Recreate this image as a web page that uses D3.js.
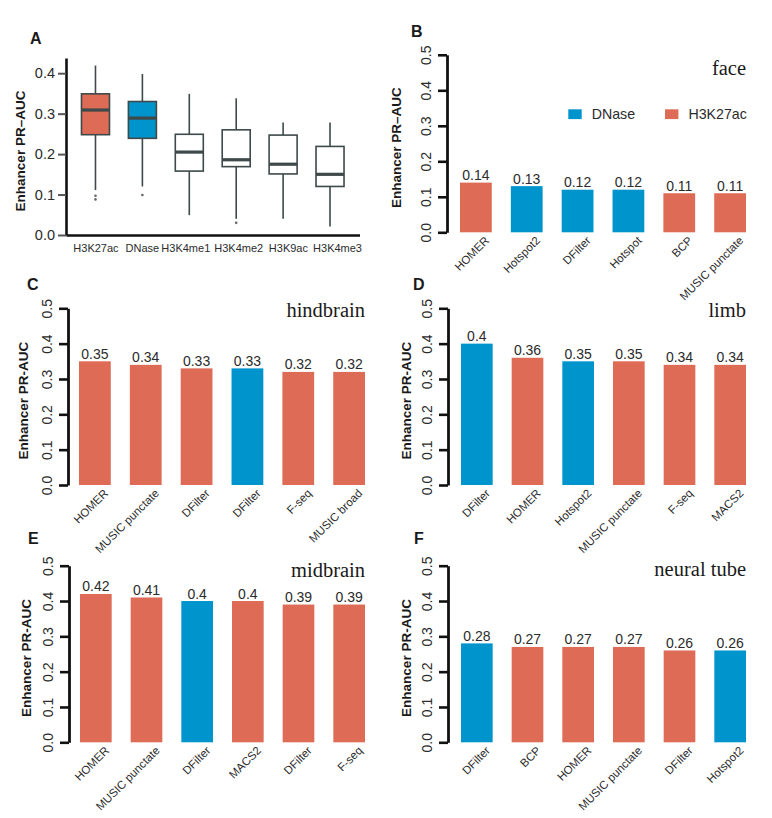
<!DOCTYPE html>
<html>
<head>
<meta charset="utf-8">
<script src="https://cdn.jsdelivr.net/npm/d3@7"></script>
<style>
  html, body { margin: 0; padding: 0; background: #fff; }
  svg { display: block; font-family: "Liberation Sans", Arial, Helvetica, sans-serif; }
</style>
</head>
<body>
<svg id="chart" width="772" height="818"></svg>
<script>
// ---------------- DATA ----------------
// Panel A: boxplot summary per mark
const boxCategories = ["H3K27ac", "DNase", "H3K4me1", "H3K4me2", "H3K9ac", "H3K4me3"];
const boxLow    = [0.111, 0.120, 0.049, 0.040, 0.040, 0.021];
const boxQ1     = [0.248, 0.239, 0.158, 0.169, 0.151, 0.120];
const boxMedian = [0.309, 0.289, 0.205, 0.186, 0.175, 0.150];
const boxQ3     = [0.349, 0.330, 0.249, 0.260, 0.247, 0.219];
const boxHigh   = [0.419, 0.398, 0.349, 0.338, 0.278, 0.278];
const boxOutliers = [[0.097, 0.088], [0.099], [], [0.030], [], []];
const boxTicks = [0, 0.1, 0.2, 0.3, 0.4];

// Panels B-F: top peak callers per tissue
const faceMethods = ["HOMER", "Hotspot2", "DFilter", "Hotspot", "BCP", "MUSIC punctate"];
const faceValues  = [0.14, 0.13, 0.12, 0.12, 0.11, 0.11];
const faceTypes   = ["H3K27ac", "DNase", "DNase", "DNase", "H3K27ac", "H3K27ac"];

const hindbrainMethods = ["HOMER", "MUSIC punctate", "DFilter", "DFilter", "F-seq", "MUSIC broad"];
const hindbrainValues  = [0.35, 0.34, 0.33, 0.33, 0.32, 0.32];
const hindbrainTypes   = ["H3K27ac", "H3K27ac", "H3K27ac", "DNase", "H3K27ac", "H3K27ac"];

const limbMethods = ["DFilter", "HOMER", "Hotspot2", "MUSIC punctate", "F-seq", "MACS2"];
const limbValues  = [0.40, 0.36, 0.35, 0.35, 0.34, 0.34];
const limbTypes   = ["DNase", "H3K27ac", "DNase", "H3K27ac", "H3K27ac", "H3K27ac"];

const midbrainMethods = ["HOMER", "MUSIC punctate", "DFilter", "MACS2", "DFilter", "F-seq"];
const midbrainValues  = [0.42, 0.41, 0.40, 0.40, 0.39, 0.39];
const midbrainTypes   = ["H3K27ac", "H3K27ac", "DNase", "H3K27ac", "H3K27ac", "H3K27ac"];

const neuralMethods = ["DFilter", "BCP", "HOMER", "MUSIC punctate", "DFilter", "Hotspot2"];
const neuralValues  = [0.28, 0.27, 0.27, 0.27, 0.26, 0.26];
const neuralTypes   = ["DNase", "H3K27ac", "H3K27ac", "H3K27ac", "H3K27ac", "DNase"];

const barTicks = [0, 0.1, 0.2, 0.3, 0.4, 0.5];
const legendLabels = ["DNase", "H3K27ac"];

// ---------------- STYLE / LAYOUT ----------------
const colorOf = d3.scaleOrdinal().domain(["DNase", "H3K27ac"]).range(["#0094cd", "#de6b55"]);
const boxFill = { "H3K27ac": "#de6b55", "DNase": "#0094cd" };
const boxStroke = "#3e4949";
const textCol = "#2b2b2b";
const boxLabelShift = [0.5, 0, -3.5, 2.5, 5.3, 7.5]; // horizontal nudge of panel A labels (px)

const svg = d3.select("#chart");

// ---------------- PANEL A ----------------
(function panelA() {
  const g = svg.append("g");
  const y = d3.scaleLinear().domain([0, 0.4376]).range([235, 58]);
  const x = d3.scaleBand().domain(boxCategories).range([66, 359.5]).paddingInner(0.403).paddingOuter(0.33);

  // y axis
  const ya = g.append("g").attr("transform", "translate(66,0)")
    .call(d3.axisLeft(y).tickValues(boxTicks).tickSize(8).tickSizeOuter(0).tickPadding(3).tickFormat(d3.format(".1f")));
  ya.select(".domain").attr("stroke", "#111").attr("stroke-width", 2.6);
  ya.selectAll(".tick line").attr("stroke", "#555").attr("stroke-width", 2);
  ya.selectAll(".tick text").attr("font-size", 14.5).attr("fill", textCol)
    .attr("font-family", "Liberation Sans, Arial, sans-serif");

  // x axis
  const xa = g.append("g").attr("transform", `translate(0,${y(0)})`)
    .call(d3.axisBottom(x).tickSize(0).tickSizeOuter(0));
  xa.select(".domain").attr("stroke", "#111").attr("stroke-width", 2.6);
  xa.selectAll(".tick text").attr("font-size", 11).attr("fill", textCol)
    .attr("x", (d, i) => boxLabelShift[i])
    .attr("y", 17).attr("dy", 0).attr("font-family", "Liberation Sans, Arial, sans-serif");

  const data = boxCategories.map((c, i) => ({
    c, lo: boxLow[i], q1: boxQ1[i], med: boxMedian[i], q3: boxQ3[i], hi: boxHigh[i], out: boxOutliers[i]
  }));
  const bw = x.bandwidth();
  const grp = g.selectAll(".box").data(data).enter().append("g").attr("class", "box");
  // whiskers
  grp.append("line")
    .attr("x1", d => x(d.c) + bw / 2).attr("x2", d => x(d.c) + bw / 2)
    .attr("y1", d => y(d.hi)).attr("y2", d => y(d.q3))
    .attr("stroke", boxStroke).attr("stroke-width", 1.6);
  grp.append("line")
    .attr("x1", d => x(d.c) + bw / 2).attr("x2", d => x(d.c) + bw / 2)
    .attr("y1", d => y(d.q1)).attr("y2", d => y(d.lo))
    .attr("stroke", boxStroke).attr("stroke-width", 1.6);
  // box
  grp.append("rect")
    .attr("x", d => x(d.c)).attr("width", bw)
    .attr("y", d => y(d.q3)).attr("height", d => y(d.q1) - y(d.q3))
    .attr("fill", d => boxFill[d.c] || "#fff")
    .attr("stroke", boxStroke).attr("stroke-width", 1.6);
  // median
  grp.append("line")
    .attr("x1", d => x(d.c)).attr("x2", d => x(d.c) + bw)
    .attr("y1", d => y(d.med)).attr("y2", d => y(d.med))
    .attr("stroke", boxStroke).attr("stroke-width", 3.2);
  // outliers
  grp.selectAll("circle").data(d => d.out.map(v => ({ c: d.c, v }))).enter().append("circle")
    .attr("cx", d => x(d.c) + bw / 2).attr("cy", d => y(d.v)).attr("r", 1.3)
    .attr("fill", "#666");

  // labels
  g.append("text").attr("transform", "translate(25,151) rotate(-90)")
    .attr("text-anchor", "middle").attr("font-weight", "bold").attr("font-size", 13.5)
    .attr("fill", "#1a1a1a").text("Enhancer PR–AUC");
  g.append("text").attr("x", 30).attr("y", 43.5).attr("font-weight", "bold").attr("font-size", 16)
    .attr("fill", "#1a1a1a").text("A");
})();

// ---------------- PANELS B-F ----------------
const panels = [
  { letter: "B", title: "face", methods: faceMethods, values: faceValues, types: faceTypes,
    ax: 447, xr: [460, 746], yr: [232.3, 54.8], letterPos: [411, 37], ylabX: 401, titleY: 75, dash: "–", legend: true },
  { letter: "C", title: "hindbrain", methods: hindbrainMethods, values: hindbrainValues, types: hindbrainTypes,
    ax: 68, xr: [79, 365], yr: [485, 308.3], letterPos: [27, 289.5], ylabX: 28, titleY: 317, dash: "-" },
  { letter: "D", title: "limb", methods: limbMethods, values: limbValues, types: limbTypes,
    ax: 448, xr: [461, 746], yr: [485, 308.3], letterPos: [413, 289.5], ylabX: 411, titleY: 317, dash: "-" },
  { letter: "E", title: "midbrain", methods: midbrainMethods, values: midbrainValues, types: midbrainTypes,
    ax: 69, xr: [80, 365], yr: [742.3, 565.7], letterPos: [28, 544], ylabX: 30.5, titleY: 576.5, dash: "-" },
  { letter: "F", title: "neural tube", methods: neuralMethods, values: neuralValues, types: neuralTypes,
    ax: 448, xr: [461, 746], yr: [742.3, 565.7], letterPos: [414, 543.5], ylabX: 411, titleY: 575.5, dash: "-" }
];

panels.forEach(p => {
  const g = svg.append("g");
  const idx = p.methods.map((m, i) => i);
  const x = d3.scaleBand().domain(idx).range(p.xr).paddingInner(0.375).paddingOuter(0);
  const y = d3.scaleLinear().domain([0, 0.5]).range(p.yr);

  // y axis
  const ya = g.append("g").attr("transform", `translate(${p.ax},0)`)
    .call(d3.axisLeft(y).tickValues(barTicks).tickSize(9).tickSizeOuter(0).tickFormat(d3.format(".1f")));
  ya.select(".domain").attr("stroke", "#111").attr("stroke-width", 2.8);
  ya.selectAll(".tick line").attr("stroke", "#111").attr("stroke-width", 2.6);
  ya.selectAll(".tick text")
    .attr("x", null).attr("dy", null)
    .attr("transform", "translate(-16,0) rotate(-90)")
    .attr("text-anchor", "middle")
    .attr("font-size", 14).attr("fill", textCol)
    .attr("font-family", "Liberation Sans, Arial, sans-serif");

  // bars
  const bars = idx.map(i => ({ i, m: p.methods[i], v: p.values[i], t: p.types[i] }));
  g.selectAll(".bar").data(bars).enter().append("rect")
    .attr("x", d => x(d.i)).attr("width", x.bandwidth())
    .attr("y", d => y(d.v)).attr("height", d => y(0) - y(d.v))
    .attr("fill", d => colorOf(d.t));

  // value labels
  g.selectAll(".val").data(bars).enter().append("text")
    .attr("x", d => x(d.i) + x.bandwidth() / 2).attr("y", d => y(d.v) - 2.5)
    .attr("text-anchor", "middle").attr("font-size", 14).attr("fill", textCol)
    .text(d => String(d.v));

  // x labels rotated 45
  g.selectAll(".xl").data(bars).enter().append("text")
    .attr("transform", d => `translate(${x(d.i) + x.bandwidth() / 2 + 14},${y(0) + 9}) rotate(-45)`)
    .attr("text-anchor", "end").attr("font-size", 11.5).attr("fill", textCol)
    .text(d => d.m);

  // title
  g.append("text").attr("x", p.xr[1]).attr("y", p.titleY)
    .attr("text-anchor", "end").attr("font-family", "Liberation Serif, Times New Roman, serif")
    .attr("font-size", 20.5).attr("fill", "#1a1a1a").text(p.title);

  // y label
  g.append("text").attr("transform", `translate(${p.ylabX},${(p.yr[0] + p.yr[1]) / 2 + 4}) rotate(-90)`)
    .attr("text-anchor", "middle").attr("font-weight", "bold").attr("font-size", 13.5)
    .attr("fill", "#1a1a1a").text("Enhancer PR" + p.dash + "AUC");

  // panel letter
  g.append("text").attr("x", p.letterPos[0]).attr("y", p.letterPos[1])
    .attr("font-weight", "bold").attr("font-size", 16).attr("fill", "#1a1a1a").text(p.letter);

  // legend
  if (p.legend) {
    const lx = [568.3, 665];
    const lg = g.selectAll(".leg").data(legendLabels).enter().append("g")
      .attr("transform", (d, i) => `translate(${lx[i]},109.3)`);
    lg.append("rect").attr("width", 13.4).attr("height", 9.8).attr("fill", d => colorOf(d));
    lg.append("text").attr("x", 23.4).attr("y", 9.8).attr("font-size", 14.2).attr("fill", textCol).text(d => d);
  }
});
</script>
</body>
</html>
